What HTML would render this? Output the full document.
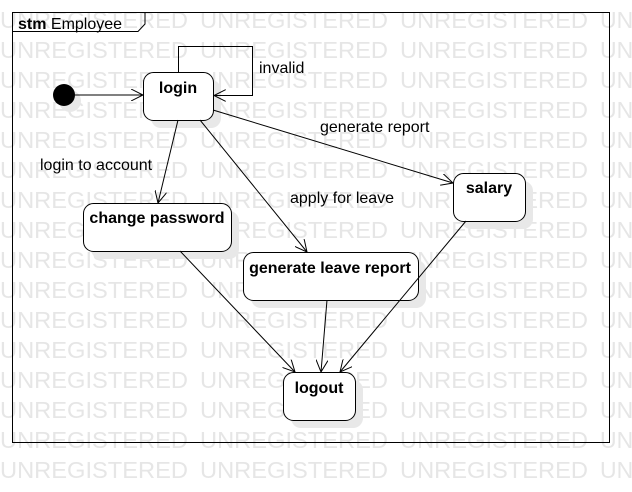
<!DOCTYPE html>
<html><head><meta charset="utf-8"><style>
body{margin:0;width:632px;height:492px;background:#fff;overflow:hidden}
svg{display:block}
text{font-family:"Liberation Sans",sans-serif}
</style></head><body>
<svg width="632" height="492" xmlns="http://www.w3.org/2000/svg">
<defs>
<marker id="a" markerWidth="14" markerHeight="12" refX="12" refY="6" orient="auto" markerUnits="userSpaceOnUse">
<path d="M0,0 L12,6 L0,12" fill="none" stroke="#000" stroke-width="1"/>
</marker>
<g id="w"><text x="0" textLength="188" lengthAdjust="spacingAndGlyphs">UNREGISTERED</text><text x="200" textLength="188" lengthAdjust="spacingAndGlyphs">UNREGISTERED</text><text x="400" textLength="188" lengthAdjust="spacingAndGlyphs">UNREGISTERED</text><text x="600">UN</text></g>
</defs>
<g fill="#e6e6e6" font-size="23">
<use href="#w" y="28"/><use href="#w" y="58"/><use href="#w" y="88"/><use href="#w" y="118"/>
<use href="#w" y="148"/><use href="#w" y="178"/><use href="#w" y="208"/><use href="#w" y="238"/>
<use href="#w" y="268"/><use href="#w" y="298"/><use href="#w" y="328"/><use href="#w" y="358"/>
<use href="#w" y="388"/><use href="#w" y="418"/><use href="#w" y="448"/><use href="#w" y="478"/>
</g>
<rect x="12.5" y="12.5" width="597" height="430" fill="none" stroke="#000"/>
<path d="M12.5,31.5 H138 L145,24 V12.5" fill="none" stroke="#000"/>
<text x="18" y="29" font-size="16"><tspan font-weight="bold">stm</tspan> Employee</text>
<g fill="#e8e8e8">
<rect x="151" y="80" width="70" height="48" rx="10"/>
<rect x="91" y="211" width="148" height="48" rx="10"/>
<rect x="251" y="260" width="175" height="48" rx="10"/>
<rect x="461" y="181" width="72" height="48" rx="10"/>
<rect x="291" y="380" width="72" height="48" rx="10"/>
<circle cx="70" cy="101" r="11"/>
</g>
<g fill="#fff" stroke="#000" stroke-width="1">
<rect x="143.5" y="72.5" width="70" height="48" rx="10"/>
<rect x="83.5" y="203.5" width="148" height="48" rx="10"/>
<rect x="243.5" y="252.5" width="175" height="48" rx="10"/>
<rect x="453.5" y="173.5" width="72" height="48" rx="10"/>
<rect x="283.5" y="372.5" width="72" height="48" rx="10"/>
</g>
<circle cx="64" cy="95" r="11" fill="#000"/>
<g font-size="16" font-weight="bold" text-anchor="middle">
<text x="178" y="93">login</text>
<text x="157" y="223">change password</text>
<text x="330" y="273">generate leave report</text>
<text x="489" y="193">salary</text>
<text x="319" y="393">logout</text>
</g>
<g stroke="#000" fill="none" marker-end="url(#a)">
<line x1="75" y1="95" x2="143" y2="95"/>
<path d="M178.5,72 V46.5 H252.5 V95.5 H214"/>
<line x1="178" y1="120" x2="158" y2="203"/>
<line x1="200" y1="120" x2="307" y2="252"/>
<line x1="213" y1="110" x2="453" y2="183"/>
<line x1="180" y1="251" x2="295" y2="372"/>
<line x1="327" y1="300" x2="321" y2="372"/>
<line x1="466" y1="221" x2="340" y2="372"/>
</g>
<g font-size="16">
<text x="259" y="73">invalid</text>
<text x="40" y="170">login to account</text>
<text x="290" y="203">apply for leave</text>
<text x="320" y="132">generate report</text>
</g>
</svg>
</body></html>
